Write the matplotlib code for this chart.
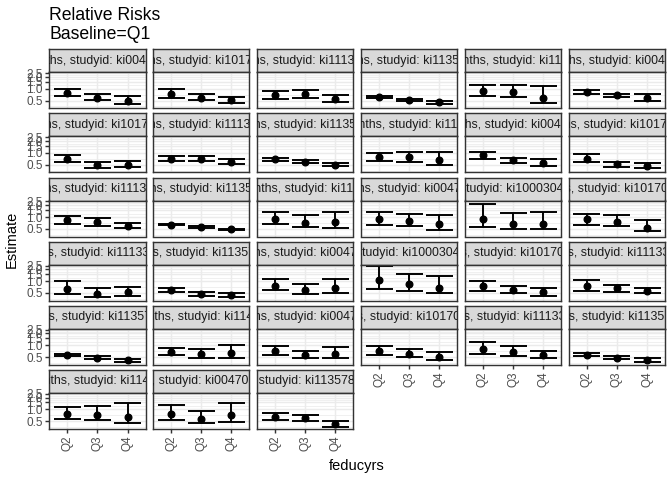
import numpy as np
import matplotlib
matplotlib.use("Agg")
import matplotlib.pyplot as plt

plt.rcParams['font.family'] = ['Liberation Sans', 'DejaVu Sans']

# ---------------- data ----------------
title_lines = ["Relative Risks", "Baseline=Q1"]
x_title = "feducyrs"
y_title = "Estimate"
quartiles = ["Q2", "Q3", "Q4"]
y_breaks = [0.5, 1.0, 1.5, 2.0, 2.5]

panel_labels = [
    "Age: 0-12 months, studyid: ki0047075b-MAL-ED",
    "Age: 0-12 months, studyid: ki1017093b-PROVIDE",
    "Age: 0-12 months, studyid: ki1113344-GMS-Nepal",
    "Age: 0-12 months, studyid: ki1135781-COHORTS",
    "Age: 0-12 months, studyid: ki1148112-LCNI-5",
    "Age: 3-15 months, studyid: ki0047075b-MAL-ED",
    "Age: 3-15 months, studyid: ki1017093b-PROVIDE",
    "Age: 3-15 months, studyid: ki1113344-GMS-Nepal",
    "Age: 3-15 months, studyid: ki1135781-COHORTS",
    "Age: 3-15 months, studyid: ki1148112-LCNI-5",
    "Age: 6-18 months, studyid: ki0047075b-MAL-ED",
    "Age: 6-18 months, studyid: ki1017093b-PROVIDE",
    "Age: 6-18 months, studyid: ki1113344-GMS-Nepal",
    "Age: 6-18 months, studyid: ki1135781-COHORTS",
    "Age: 6-18 months, studyid: ki1148112-LCNI-5",
    "Age: 0-3 months, studyid: ki0047075b-MAL-ED",
    "Age: 0-3 months, studyid: ki1000304b-SAS-CompFeed",
    "Age: 0-3 months, studyid: ki1017093c-NIH-Crypto",
    "Age: 0-3 months, studyid: ki1113344-GMS-Nepal",
    "Age: 0-3 months, studyid: ki1135781-COHORTS",
    "Age: 3-6 months, studyid: ki0047075b-MAL-ED",
    "Age: 3-6 months, studyid: ki1000304b-SAS-CompFeed",
    "Age: 3-6 months, studyid: ki1017093c-NIH-Crypto",
    "Age: 3-6 months, studyid: ki1113344-GMS-Nepal",
    "Age: 3-6 months, studyid: ki1135781-COHORTS",
    "Age: 3-6 months, studyid: ki1148112-LCNI-5",
    "Age: 6-9 months, studyid: ki0047075b-MAL-ED",
    "Age: 6-9 months, studyid: ki1017093c-NIH-Crypto",
    "Age: 6-9 months, studyid: ki1113344-GMS-Nepal",
    "Age: 6-9 months, studyid: ki1135781-COHORTS",
    "Age: 6-9 months, studyid: ki1148112-LCNI-5",
    "0-24 months, studyid: ki0047075b-MAL-ED",
    "0-24 months, studyid: ki1135781-COHORTS",
]

estimate = [
    [0.80, 0.595, 0.50], [0.72, 0.595, 0.51], [0.68, 0.73, 0.55],
    [0.62, 0.51, 0.46], [0.87, 0.82, 0.595], [0.83, 0.68, 0.595],
    [0.69, 0.49, 0.50], [0.72, 0.70, 0.58], [0.68, 0.58, 0.50],
    [0.78, 0.78, 0.66], [0.87, 0.65, 0.56], [0.72, 0.51, 0.45],
    [0.84, 0.73, 0.59], [0.64, 0.55, 0.48], [0.88, 0.72, 0.73],
    [0.88, 0.77, 0.65], [0.91, 0.67, 0.65], [0.88, 0.75, 0.53],
    [0.62, 0.46, 0.52], [0.61, 0.48, 0.43], [0.77, 0.58, 0.65],
    [1.06, 0.82, 0.67], [0.75, 0.61, 0.53], [0.77, 0.66, 0.57],
    [0.56, 0.48, 0.41], [0.66, 0.60, 0.62], [0.71, 0.57, 0.61],
    [0.73, 0.58, 0.50], [0.80, 0.69, 0.55], [0.57, 0.48, 0.43],
    [0.76, 0.72, 0.63], [0.75, 0.58, 0.70], [0.65, 0.59, 0.41],
]
ci_lower = [
    [0.67, 0.51, 0.42], [0.595, 0.51, 0.44], [0.56, 0.57, 0.47],
    [0.58, 0.48, 0.42], [0.65, 0.62, 0.44], [0.72, 0.62, 0.50],
    [0.57, 0.42, 0.43], [0.61, 0.61, 0.52], [0.64, 0.54, 0.46],
    [0.61, 0.58, 0.50], [0.72, 0.56, 0.47], [0.58, 0.43, 0.40],
    [0.67, 0.60, 0.53], [0.61, 0.52, 0.46], [0.68, 0.55, 0.53],
    [0.62, 0.58, 0.47], [0.56, 0.50, 0.48], [0.64, 0.59, 0.43],
    [0.48, 0.39, 0.41], [0.54, 0.42, 0.39], [0.58, 0.48, 0.50],
    [0.64, 0.55, 0.51], [0.56, 0.50, 0.42], [0.56, 0.54, 0.50],
    [0.52, 0.45, 0.38], [0.55, 0.47, 0.46], [0.57, 0.47, 0.47],
    [0.57, 0.49, 0.41], [0.61, 0.53, 0.46], [0.52, 0.44, 0.38],
    [0.56, 0.52, 0.44], [0.53, 0.45, 0.47], [0.54, 0.50, 0.35],
]
ci_upper = [
    [0.99, 0.72, 0.64], [0.98, 0.73, 0.63], [0.90, 0.96, 0.68],
    [0.66, 0.54, 0.50], [1.22, 1.24, 1.18], [0.96, 0.75, 0.72],
    [0.86, 0.58, 0.61], [0.84, 0.84, 0.69], [0.73, 0.65, 0.55],
    [1.00, 1.03, 1.03], [1.03, 0.74, 0.69], [0.93, 0.58, 0.55],
    [1.05, 0.95, 0.72], [0.68, 0.58, 0.50], [1.31, 1.12, 1.31],
    [1.31, 1.17, 1.12], [2.11, 1.23, 1.31], [1.17, 1.14, 0.83],
    [0.99, 0.67, 0.71], [0.67, 0.54, 0.50], [1.10, 0.82, 1.10],
    [2.40, 1.51, 1.32], [1.01, 0.77, 0.65], [1.06, 0.80, 0.67],
    [0.61, 0.52, 0.44], [0.86, 0.80, 1.00], [0.95, 0.73, 0.90],
    [0.98, 0.78, 0.66], [1.19, 0.98, 0.73], [0.62, 0.52, 0.46],
    [1.14, 1.19, 1.42], [1.26, 0.89, 1.48], [0.81, 0.71, 0.51],
]

# ---------------- layout ----------------
W, H = 672, 480
fig = plt.figure(figsize=(W / 96, H / 96), dpi=96)
fig.patch.set_facecolor("white")


def rect(x, y, w, h):
    return [x / W, 1 - (y + h) / H, w / W, h / H]


ncol = 6
n = len(panel_labels)
col_x0, col_pitch, pw = 49.3, 103.9, 96.3
row_y0, row_pitch, sh, ph = 49.3, 64.1, 23.0, 36.0

grey20 = "#333333"
grey30 = "#4D4D4D"
grey10 = "#1A1A1A"
grey85 = "#D9D9D9"
grey92 = "#EBEBEB"

lo_all = min(min(r) for r in ci_lower)
hi_all = max(max(r) for r in ci_upper)
l0, l1 = np.log(lo_all), np.log(hi_all)
pad = 0.05 * (l1 - l0)
ylim = (np.exp(l0 - pad), np.exp(l1 + pad))

lb = np.log(y_breaks)
ext = np.concatenate([[lb[0] - (lb[1] - lb[0])], lb, [lb[-1] + (lb[-1] - lb[-2])]])
minor = np.exp((ext[:-1] + ext[1:]) / 2)

xpos = np.arange(1, len(quartiles) + 1)
lw = 1.07
bar_lw = 1.45

for i in range(n):
    r, c = divmod(i, ncol)
    x0 = col_x0 + c * col_pitch
    y0 = row_y0 + r * row_pitch
    # strip
    sax = fig.add_axes(rect(x0, y0, pw, sh))
    sax.set_facecolor(grey85)
    sax.set_xticks([]); sax.set_yticks([])
    for s in sax.spines.values():
        s.set_color(grey20); s.set_linewidth(lw)
    txt = sax.text(0.5, 0.5, panel_labels[i], transform=sax.transAxes,
                   ha="center", va="center", fontsize=9.3, color=grey10,
                   clip_on=True, zorder=5)
    txt.set_clip_path(None)
    txt.set_clip_box(sax.bbox)
    # panel
    ax = fig.add_axes(rect(x0, y0 + sh, pw, ph))
    ax.set_facecolor("white")
    ax.set_yscale("log")
    ax.set_ylim(*ylim)
    ax.set_xlim(0.4, len(quartiles) + 0.6)
    for m in minor:
        ax.axhline(m, color=grey92, lw=0.55, zorder=0.5)
    for b in y_breaks:
        ax.axhline(b, color=grey92, lw=lw, zorder=0.6)
    for xp in xpos:
        ax.axvline(xp, color=grey92, lw=lw, zorder=0.6)
    est = np.array(estimate[i]); lo = np.array(ci_lower[i]); hi = np.array(ci_upper[i])
    ax.vlines(xpos, lo, hi, color="black", lw=bar_lw, zorder=2)
    ax.hlines(lo, xpos - 0.45, xpos + 0.45, color="black", lw=bar_lw, zorder=2)
    ax.hlines(hi, xpos - 0.45, xpos + 0.45, color="black", lw=bar_lw, zorder=2)
    ax.plot(xpos, est, "o", color="black", ms=5, zorder=3)
    for s in ax.spines.values():
        s.set_color(grey20); s.set_linewidth(lw); s.set_zorder(4)
    ax.yaxis.set_minor_locator(matplotlib.ticker.NullLocator())
    ax.set_yticks(y_breaks)
    if c == 0:
        ax.set_yticklabels([f"{b:.1f}" for b in y_breaks])
        ax.tick_params(axis="y", length=2.75, width=lw, color=grey20,
                       labelsize=8.8, labelcolor=grey30, pad=2.2)
    else:
        ax.set_yticklabels([])
        ax.tick_params(axis="y", length=0)
    ax.set_xticks(xpos)
    if i + ncol >= n:
        ax.set_xticklabels(quartiles, rotation=90)
        ax.tick_params(axis="x", length=2.75, width=lw, color=grey20,
                       labelsize=8.8, labelcolor=grey30, pad=2.2)
    else:
        ax.set_xticklabels([])
        ax.tick_params(axis="x", length=0)

fig.text(49.3 / W, 1 - 20 / H, title_lines[0], fontsize=13.2, color="black",
         ha="left", va="baseline")
fig.text(49.3 / W, 1 - 39 / H, title_lines[1], fontsize=13.2, color="black",
         ha="left", va="baseline")
fig.text((col_x0 + (5 * col_pitch + pw) / 2) / W, 1 - 466 / H, x_title,
         fontsize=11, ha="center", va="center")
fig.text(12 / W, 1 - 239 / H, y_title, fontsize=11, ha="center", va="center",
         rotation=90)

fig.savefig("out.png", dpi=96)
